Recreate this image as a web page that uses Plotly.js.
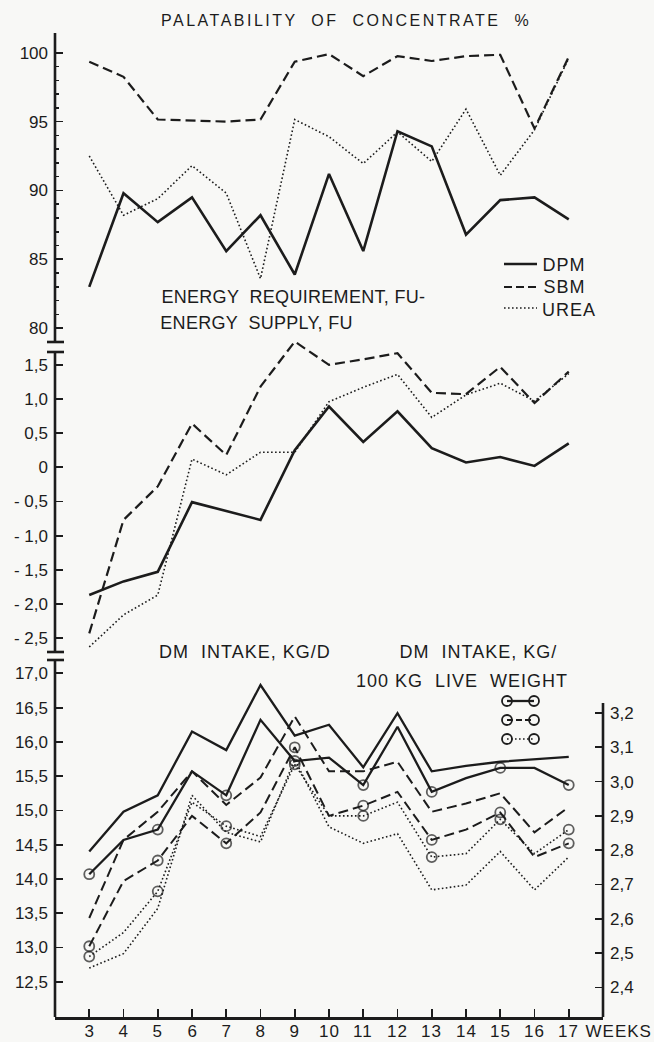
<!DOCTYPE html>
<html><head><meta charset="utf-8">
<script src="https://cdn.plot.ly/plotly-3.0.1.min.js"></script>
<style>
html,body{margin:0;padding:0;background:#f8f8f6;}
#chart{width:654px;height:1042px;}
.annotation .annotation-text{letter-spacing:1px;}
.annotation[data-index="0"] .annotation-text{letter-spacing:2.5px;}
.annotation[data-index="1"] .annotation-text,
.annotation[data-index="2"] .annotation-text{letter-spacing:0.3px;}
</style></head><body><div id="chart"></div>
<script>
// ---- data ----
const weeks = [3,4,5,6,7,8,9,10,11,12,13,14,15,16,17];
// Palatability of concentrate, %
const palDPM  = [83.0, 89.8, 87.7, 89.5, 85.6, 88.2, 83.9, 91.2, 85.6, 94.3, 93.2, 86.8, 89.3, 89.5, 87.9];
const palSBM  = [99.35, 98.25, 95.15, 95.05, 95.0, 95.15, 99.35, 99.9, 98.3, 99.75, 99.4, 99.75, 99.85, 94.5, 99.7];
const palUREA = [92.5, 88.2, 89.4, 91.8, 89.8, 83.6, 95.15, 93.9, 91.95, 94.25, 92.1, 95.9, 91.1, 94.4, 99.6];
// Energy requirement, FU - energy supply, FU
const enDPM  = [-1.87, -1.67, -1.53, -0.51, -0.64, -0.77, 0.25, 0.89, 0.37, 0.82, 0.28, 0.07, 0.15, 0.02, 0.35];
const enSBM  = [-2.43, -0.77, -0.28, 0.64, 0.18, 1.18, 1.84, 1.50, 1.58, 1.67, 1.09, 1.07, 1.47, 0.94, 1.40];
const enUREA = [-2.63, -2.16, -1.87, 0.12, -0.11, 0.22, 0.22, 0.96, 1.17, 1.36, 0.73, 1.06, 1.23, 0.97, 1.37];
// DM intake, kg/d
const dmDPM  = [14.40, 14.98, 15.22, 16.15, 15.88, 16.83, 16.09, 16.25, 15.63, 16.42, 15.57, 15.65, 15.71, 15.75, 15.78];
const dmSBM  = [13.43, 14.57, 14.98, 15.57, 15.08, 15.48, 16.37, 15.57, 15.57, 15.71, 14.98, 15.10, 15.25, 14.68, 15.05];
const dmUREA = [12.70, 12.91, 13.57, 15.22, 14.68, 14.54, 15.74, 14.76, 14.52, 14.66, 13.84, 13.91, 14.40, 13.84, 14.32];
// DM intake, kg/100 kg live weight
const lwDPM  = [2.73, 2.83, 2.86, 3.03, 2.96, 3.18, 3.06, 3.07, 2.99, 3.16, 2.97, 3.01, 3.04, 3.04, 2.99];
const lwSBM  = [2.52, 2.71, 2.77, 2.90, 2.82, 2.91, 3.10, 2.90, 2.93, 2.97, 2.83, 2.86, 2.91, 2.78, 2.82];
const lwUREA = [2.49, 2.56, 2.68, 2.94, 2.87, 2.84, 3.05, 2.90, 2.90, 2.94, 2.78, 2.79, 2.89, 2.79, 2.86];

// tick labels
const weekLabels = weeks.map(String);
const palTicks = [80, 85, 90, 95, 100];
const enTicks = [1.5, 1.0, 0.5, 0, -0.5, -1.0, -1.5, -2.0, -2.5];
const enTickText = ['1,5','1,0','0,5','0','- 0,5','- 1,0','- 1,5','- 2,0','- 2,5'];
const dmTicks = [17.0, 16.5, 16.0, 15.5, 15.0, 14.5, 14.0, 13.5, 13.0, 12.5];
const dmTickText = ['17,0','16,5','16,0','15,5','15,0','14,5','14,0','13,5','13,0','12,5'];
const lwTicks = [3.2, 3.1, 3.0, 2.9, 2.8, 2.7, 2.6, 2.5, 2.4];
const lwTickText = ['3,2','3,1','3,0','2,9','2,8','2,7','2,6','2,5','2,4'];

// ---- layout helpers ----
const W = 654, H = 1042, L = 55, R = 603, T = 33, B = 1017;
const px = x => (x - L) / (R - L);
const py = y => (B - y) / (B - T);
const FONT = 'Liberation Sans, Arial, sans-serif';
const INK = '#1c1c1c';

const solid = w => ({color: INK, width: w});
const dashed = w => ({color: INK, width: w, dash: '10px,5px'});
const dotted = w => ({color: INK, width: w, dash: '1.6px,2.4px'});
const mk = weeks.map(w => (w % 2 === 1 ? 10 : 0));
const markerStyle = {symbol: 'circle-open', size: mk, color: INK, line: {width: 1.8, color: INK}};

const traces = [
  {x: weeks, y: palDPM, yaxis: 'y', line: solid(2.6)},
  {x: weeks, y: palSBM, yaxis: 'y', line: dashed(2.2)},
  {x: weeks, y: palUREA, yaxis: 'y', line: dotted(1.6)},
  {x: weeks, y: enDPM, yaxis: 'y2', line: solid(2.6)},
  {x: weeks, y: enSBM, yaxis: 'y2', line: dashed(2.2)},
  {x: weeks, y: enUREA, yaxis: 'y2', line: dotted(1.6)},
  {x: weeks, y: dmDPM, yaxis: 'y3', line: solid(2.3)},
  {x: weeks, y: dmSBM, yaxis: 'y3', line: dashed(2.0)},
  {x: weeks, y: dmUREA, yaxis: 'y3', line: dotted(1.6)},
  {x: weeks, y: lwDPM, yaxis: 'y4', mode: 'lines+markers', line: solid(2.3), marker: markerStyle},
  {x: weeks, y: lwSBM, yaxis: 'y4', mode: 'lines+markers', line: dashed(2.0), marker: markerStyle},
  {x: weeks, y: lwUREA, yaxis: 'y4', mode: 'lines+markers', line: dotted(1.6), marker: markerStyle}
].map(t => Object.assign({type: 'scatter', mode: 'lines', xaxis: 'x', hoverinfo: 'skip'}, t));

const tickFont = {family: FONT, size: 17, color: INK};
const yBase = {
  showgrid: false, zeroline: false, showline: false, ticks: 'inside', ticklen: 8,
  tickwidth: 1.8, tickcolor: INK, tickfont: tickFont, anchor: 'x', tickmode: 'array',
  ticklabelstandoff: 6, fixedrange: true
};
const minorVals = [];
for (let v = 81; v < 100; v++) if (v % 5 !== 0) minorVals.push(v);

const shapes = [];
const vline = (x, y0, y1, yref, w) => shapes.push({type: 'line', xref: 'paper', yref: yref, x0: x, x1: x, y0: y0, y1: y1, line: {color: INK, width: w}});
const hline = (x0, x1, y, w, dash) => shapes.push({type: 'line', xref: 'paper', yref: 'paper', x0: px(x0), x1: px(x1), y0: py(y), y1: py(y), line: {color: INK, width: w, dash: dash || 'solid'}});
// left axis segments with breaks
vline(0, 0, 1, 'y domain', 2.6);
vline(0, -2.703, 1.687, 'y2', 2.6);
vline(0, 0, 1, 'y3 domain', 2.6);
// right axis
vline(1, 2.3137, 3.229, 'y4', 2.6);
// break caps
[342, 352, 652, 660].forEach(y => hline(47, 64, y, 2.6));
// palatability legend samples
hline(504, 537, 264, 2.6);
hline(504, 537, 287, 2.2, '8px,4px');
hline(504, 537, 308, 1.6, '1.6px,2.4px');
// live-weight legend samples (line with circle ends)
const legRows = [[701, 'solid', 2.3], [720, '6px,3px', 2.0], [739, '1.6px,2.4px', 1.6]];
legRows.forEach(r => {
  hline(507, 534, r[0], r[2], r[1]);
  [507, 534].forEach(cx => shapes.push({
    type: 'circle', xref: 'paper', yref: 'paper', xsizemode: 'pixel', ysizemode: 'pixel',
    xanchor: px(cx), yanchor: py(r[0]), x0: -5, x1: 5, y0: -5, y1: 5,
    line: {color: INK, width: 1.8}, fillcolor: 'rgba(0,0,0,0)'
  }));
});

const ann = (text, x, y, size) => ({text: text, xref: 'paper', yref: 'paper', x: px(x), y: py(y),
  xanchor: 'center', yanchor: 'middle', showarrow: false, font: {family: FONT, size: size || 18, color: INK}});
const annotations = [
  ann('PALATABILITY  OF  CONCENTRATE  %', 345.5, 21, 16),
  ann('ENERGY  REQUIREMENT, FU-', 293, 297),
  ann('ENERGY  SUPPLY, FU', 256, 323),
  ann('DPM', 564, 265),
  ann('SBM', 564, 287),
  ann('UREA', 569, 310),
  ann('DM  INTAKE, KG/D', 245, 652),
  ann('DM  INTAKE, KG/', 478, 652),
  ann('100 KG  LIVE  WEIGHT', 461.5, 681),
  ann('WEEKS', 618, 1031, 17)
];
// x tick labels (placed on the week positions of the x axis)
weeks.forEach((w, i) => annotations.push({
  text: weekLabels[i], xref: 'x', yref: 'paper', x: w, y: py(1031),
  xanchor: 'center', yanchor: 'middle', showarrow: false, font: {family: FONT, size: 17, color: INK}
}));

const layout = {
  width: W, height: H,
  margin: {l: L, r: W - R, t: T, b: H - B, pad: 0},
  paper_bgcolor: '#f8f8f6', plot_bgcolor: 'rgba(0,0,0,0)',
  showlegend: false, hovermode: false,
  font: {family: FONT, color: INK},
  xaxis: {
    domain: [0, 1], range: [2, 18], anchor: 'y3', showgrid: false, zeroline: false,
    showline: true, linewidth: 2.6, linecolor: INK, mirror: false,
    ticks: 'inside', ticklen: 8, tickwidth: 1.6, tickcolor: INK,
    tickmode: 'array', tickvals: weeks, showticklabels: false, fixedrange: true
  },
  yaxis: Object.assign({}, yBase, {
    domain: [py(342), 1], range: [79.0, 101.43], tickvals: palTicks, ticktext: palTicks.map(String),
    minor: {tickmode: 'array', tickvals: minorVals, ticks: 'inside', ticklen: 4, tickwidth: 1.5, tickcolor: INK, showgrid: false}
  }),
  yaxis2: Object.assign({}, yBase, {
    domain: [py(652), py(335)], range: [-2.703, 1.936], tickvals: enTicks, ticktext: enTickText
  }),
  yaxis3: Object.assign({}, yBase, {
    domain: [0, py(660)], range: [11.985, 17.195], tickvals: dmTicks, ticktext: dmTickText
  }),
  yaxis4: Object.assign({}, yBase, {
    overlaying: 'y3', side: 'right', range: [2.3137, 3.3545], tickvals: lwTicks, ticktext: lwTickText
  }),
  shapes: shapes,
  annotations: annotations
};

Plotly.newPlot('chart', traces, layout, {staticPlot: true, displayModeBar: false});
</script>
</body></html>
